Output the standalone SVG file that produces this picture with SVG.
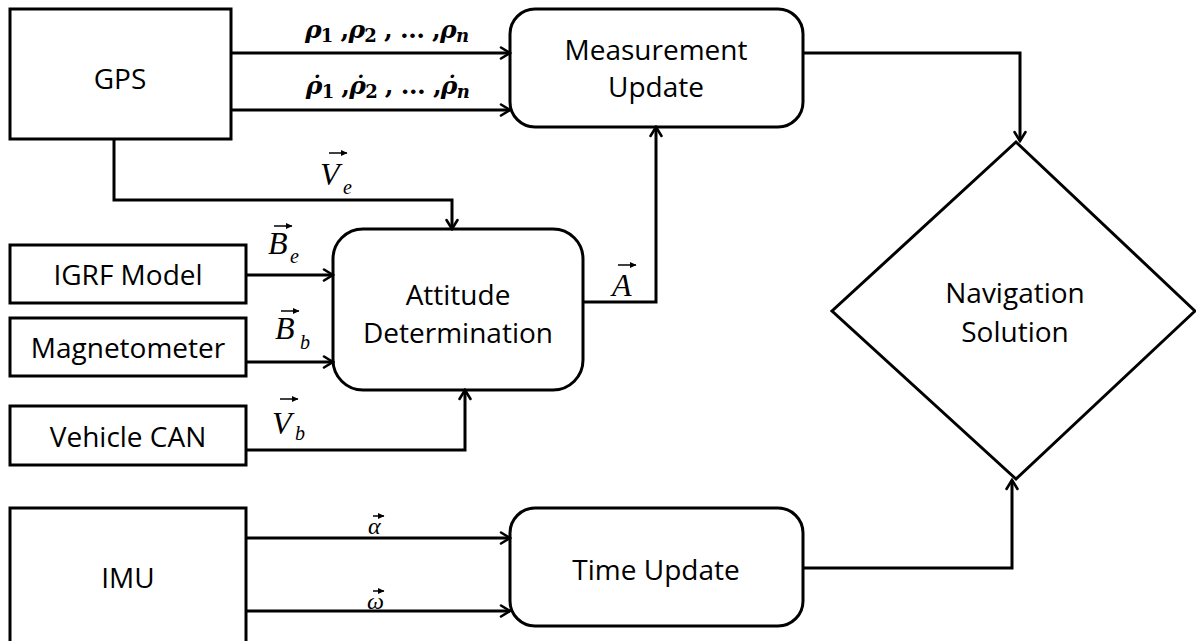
<svg xmlns="http://www.w3.org/2000/svg" width="1196" height="641" viewBox="0 0 1196 641">
<style>
.box{fill:#fff;stroke:#000;stroke-width:3}
.lbl{font-family:"Open Sans","Liberation Sans",sans-serif;font-size:28px;fill:#000;text-anchor:middle}
.con{fill:none;stroke:#000;stroke-width:3}
.vec{font-family:"Liberation Serif","DejaVu Serif",serif;font-style:italic;fill:#000}
.rho{font-family:"DejaVu Serif","Liberation Serif",serif;font-weight:bold;fill:#000}
.va{stroke:#000;stroke-width:1.5;fill:none}
</style>
<defs>
<marker id="arr" markerWidth="13" markerHeight="14" refX="11" refY="7" orient="auto" markerUnits="userSpaceOnUse">
<path d="M2,1.5 L11,7 L2,12.5" fill="none" stroke="#000" stroke-width="2.6" stroke-linecap="round" stroke-linejoin="miter"/>
</marker>
<marker id="va" markerWidth="7" markerHeight="7" refX="6" refY="3.5" orient="auto" markerUnits="userSpaceOnUse">
<path d="M0,0.5 L6.5,3.5 L0,6.5 z" fill="#000"/>
</marker>
</defs>

<g id="gps"><rect class="box" x="10" y="9" width="221" height="130"/><text class="lbl" x="120" y="89">GPS</text></g>
<g id="igrf"><rect class="box" x="10" y="245" width="236" height="58"/><text class="lbl" x="128" y="285">IGRF Model</text></g>
<g id="mag"><rect class="box" x="10" y="318" width="236" height="58"/><text class="lbl" x="128" y="358">Magnetometer</text></g>
<g id="can"><rect class="box" x="10" y="406" width="236" height="59"/><text class="lbl" x="128" y="447">Vehicle CAN</text></g>
<g id="imu"><rect class="box" x="10" y="508" width="236" height="140"/><text class="lbl" x="128" y="588">IMU</text></g>
<g id="meas"><rect class="box" x="510" y="9" width="293" height="118" rx="25"/><text class="lbl" x="656" y="60">Measurement</text><text class="lbl" x="656" y="97">Update</text></g>
<g id="att"><rect class="box" x="333" y="229" width="250" height="161" rx="30"/><text class="lbl" x="458" y="305">Attitude</text><text class="lbl" x="458" y="343">Determination</text></g>
<g id="time"><rect class="box" x="510" y="508" width="293" height="118" rx="25"/><text class="lbl" x="656" y="580">Time Update</text></g>
<g id="nav"><polygon class="box" points="1016,142 1195,311 1016,479 832,311"/><text class="lbl" x="1015" y="303">Navigation</text><text class="lbl" x="1015" y="342">Solution</text></g>

<g id="connectors">
<path class="con" d="M231,53 H510" marker-end="url(#arr)"/>
<path class="con" d="M231,110 H510" marker-end="url(#arr)"/>
<path class="con" d="M114,139 V200 H452 V229" marker-end="url(#arr)"/>
<path class="con" d="M246,275 H333" marker-end="url(#arr)"/>
<path class="con" d="M246,362 H333" marker-end="url(#arr)"/>
<path class="con" d="M246,450 H465 V390" marker-end="url(#arr)"/>
<path class="con" d="M583,302 H656 V127" marker-end="url(#arr)"/>
<path class="con" d="M803,53 H1020 V141" marker-end="url(#arr)"/>
<path class="con" d="M246,538 H510" marker-end="url(#arr)"/>
<path class="con" d="M246,611 H510" marker-end="url(#arr)"/>
<path class="con" d="M803,568 H1012 V480" marker-end="url(#arr)"/>
</g>

<g id="labels">
<text class="rho" x="305" y="38" font-size="25" textLength="164" lengthAdjust="spacing"><tspan font-style="italic">ρ</tspan><tspan font-size="18" dy="4">1</tspan><tspan dy="-4"> ,</tspan><tspan font-style="italic">ρ</tspan><tspan font-size="18" dy="4">2</tspan><tspan dy="-4"> , … ,</tspan><tspan font-style="italic">ρ</tspan><tspan font-size="18" font-style="italic" dy="4">n</tspan></text>
<text class="rho" x="305" y="94" font-size="25" textLength="164" lengthAdjust="spacing"><tspan font-style="italic">ρ̇</tspan><tspan font-size="18" dy="4">1</tspan><tspan dy="-4"> ,</tspan><tspan font-style="italic">ρ̇</tspan><tspan font-size="18" dy="4">2</tspan><tspan dy="-4"> , … ,</tspan><tspan font-style="italic">ρ̇</tspan><tspan font-size="18" font-style="italic" dy="4">n</tspan></text>

<text class="vec" x="320" y="185" font-size="32">V</text><text class="vec" x="343" y="194" font-size="20">e</text>
<line class="va" x1="329" y1="153" x2="347" y2="153" marker-end="url(#va)"/>

<text class="vec" x="268" y="254" font-size="32">B</text><text class="vec" x="290" y="263" font-size="20">e</text>
<line class="va" x1="274" y1="226" x2="292" y2="226" marker-end="url(#va)"/>

<text class="vec" x="275" y="339" font-size="32">B</text><text class="vec" x="300" y="349" font-size="20">b</text>
<line class="va" x1="281" y1="311" x2="299" y2="311" marker-end="url(#va)"/>

<text class="vec" x="272" y="434" font-size="32">V</text><text class="vec" x="295" y="440" font-size="20">b</text>
<line class="va" x1="280" y1="399" x2="298" y2="399" marker-end="url(#va)"/>

<text class="vec" x="612" y="296" font-size="32">A</text>
<line class="va" x1="618" y1="265" x2="636" y2="265" marker-end="url(#va)"/>

<text class="vec" x="368" y="534" font-size="24">α</text>
<line class="va" x1="373" y1="516" x2="384" y2="516" marker-end="url(#va)"/>

<text class="vec" x="367" y="609" font-size="24">ω</text>
<line class="va" x1="373" y1="591" x2="384" y2="591" marker-end="url(#va)"/>
</g>
</svg>
